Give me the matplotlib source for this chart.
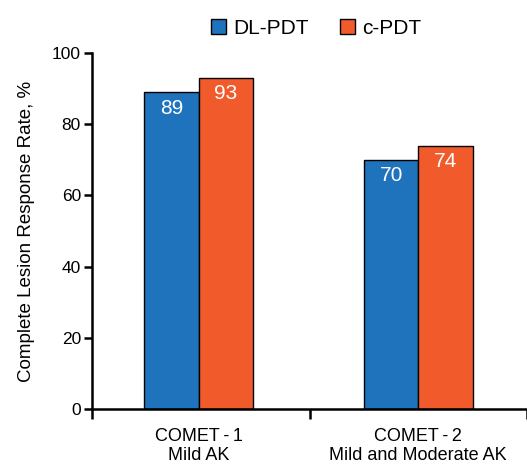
import matplotlib.pyplot as plt
import numpy as np

plt.rcParams['font.family'] = ['Liberation Sans', 'DejaVu Sans']

groups = ["COMET\u2009-\u20091\nMild AK", "COMET\u2009-\u20092\nMild and Moderate AK"]
series = ["DL-PDT", "c-PDT"]
dl_pdt = [89, 70]
c_pdt = [93, 74]
colors = ["#1f73bd", "#f15b2c"]

fig = plt.figure(figsize=(5.27, 4.67), dpi=100)
ax = fig.add_axes([0.1746, 0.1242, 0.8254, 0.7623])

x = np.array([0.49, 1.5])
w = 0.25
b1 = ax.bar(x - w / 2, dl_pdt, w, color=colors[0], edgecolor="black", linewidth=1, label=series[0])
b2 = ax.bar(x + w / 2, c_pdt, w, color=colors[1], edgecolor="black", linewidth=1, label=series[1])

for bars, vals in [(b1, dl_pdt), (b2, c_pdt)]:
    for rect, v in zip(bars, vals):
        ax.text(rect.get_x() + rect.get_width() / 2, v - 4.5, str(v),
                ha="center", va="center", color="white", fontsize=15)

ax.set_xlim(0, 2)
ax.set_ylim(0, 100)
ax.set_yticks([0, 20, 40, 60, 80, 100])
ax.set_xticks([0, 1, 2])
ax.set_xticklabels([])
ax.set_xticks(x, minor=True)
ax.set_xticklabels(groups, minor=True, fontsize=13, linespacing=1.15)
ax.tick_params(axis="x", which="minor", length=0, pad=14)
ax.tick_params(axis="x", which="major", length=7, width=1.8, direction="out")
ax.tick_params(axis="y", length=6, width=1.8, labelsize=12.5, pad=2)

for s in ["top", "right"]:
    ax.spines[s].set_visible(False)
for s in ["left", "bottom"]:
    ax.spines[s].set_linewidth(1.8)

ax.set_ylabel("Complete Lesion Response Rate, %", fontsize=13.5, labelpad=12)

fig.legend(handles=[b1, b2], labels=series, loc="upper center", bbox_to_anchor=(0.6, 1.0),
           ncol=2, frameon=False, fontsize=15, handlelength=0.7, handleheight=0.7,
           handletextpad=0.35, columnspacing=1.5)

plt.savefig("out.png", dpi=100)
